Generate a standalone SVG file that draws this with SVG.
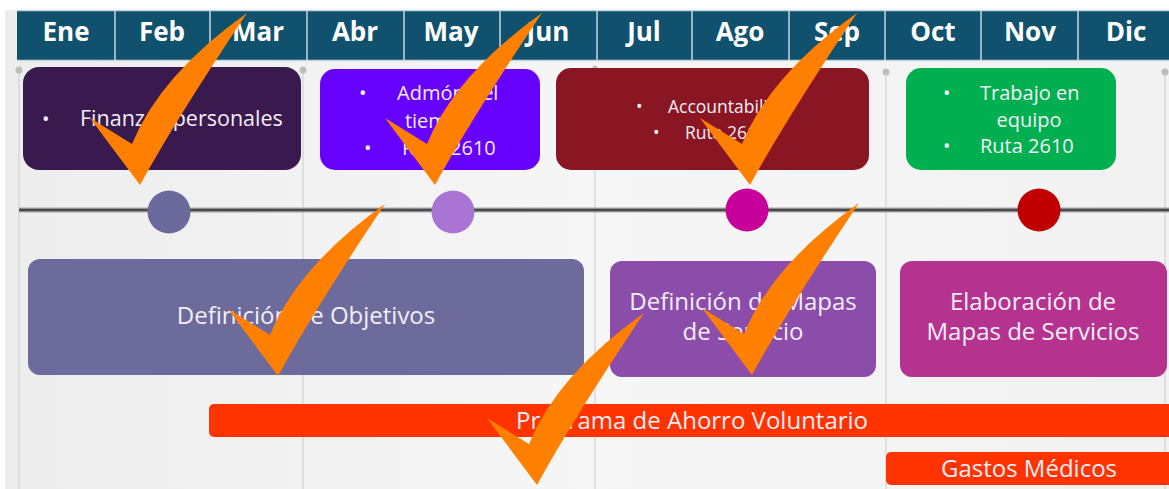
<svg xmlns="http://www.w3.org/2000/svg" xmlns:xlink="http://www.w3.org/1999/xlink" width="1169" height="489" viewBox="0 0 1169 489">
<style>
.month{font-family:"Open Sans","Liberation Sans",sans-serif;font-weight:bold;font-size:26px;fill:#ffffff;text-anchor:middle}
.t{font-family:"Open Sans","Liberation Sans",sans-serif;fill:#f2eef6}
.s19{font-size:20px}
.s21{font-size:21.5px}
.s17{font-size:17.5px}
.s22{font-size:24px}
.mid{text-anchor:middle}
.guide{stroke:#d2d2d2;stroke-width:1.2}
.gdot{fill:#bdbdbd}
.div{stroke:#c9d6de;stroke-width:1.5}
.check{fill:#FF8000}
</style>
<defs>
<linearGradient id="bg" x1="0" y1="0" x2="1" y2="0">
<stop offset="0" stop-color="#ededed"/>
<stop offset="0.5" stop-color="#f6f6f6"/>
<stop offset="1" stop-color="#f2f2f2"/>
</linearGradient>
<path id="check" d="M0,0 L-50,-67 L-8,-41 Q20,-110 107,-172 Q36,-66 0,0 Z"/>
</defs>
<rect x="0" y="0" width="1169" height="489" fill="#ffffff"/>
<rect x="5" y="10" width="1164" height="479" fill="url(#bg)"/>

<g id="header">
<rect x="17" y="10" width="1160" height="51" fill="#10526E"/>
<line class="div" x1="17" y1="10.5" x2="1169" y2="10.5"/>
<line class="div" x1="17" y1="60.5" x2="1169" y2="60.5"/>
<line class="div" x1="115" y1="10" x2="115" y2="61"/>
<line class="div" x1="210" y1="10" x2="210" y2="61"/>
<line class="div" x1="307" y1="10" x2="307" y2="61"/>
<line class="div" x1="404" y1="10" x2="404" y2="61"/>
<line class="div" x1="500" y1="10" x2="500" y2="61"/>
<line class="div" x1="597" y1="10" x2="597" y2="61"/>
<line class="div" x1="692" y1="10" x2="692" y2="61"/>
<line class="div" x1="789" y1="10" x2="789" y2="61"/>
<line class="div" x1="885" y1="10" x2="885" y2="61"/>
<line class="div" x1="981" y1="10" x2="981" y2="61"/>
<line class="div" x1="1078" y1="10" x2="1078" y2="61"/>
<text class="month" x="66" y="41">Ene</text>
<text class="month" x="162" y="41">Feb</text>
<text class="month" x="258" y="41">Mar</text>
<text class="month" x="355" y="41">Abr</text>
<text class="month" x="451" y="41">May</text>
<text class="month" x="548" y="41">Jun</text>
<text class="month" x="644" y="41">Jul</text>
<text class="month" x="740" y="41">Ago</text>
<text class="month" x="837" y="41">Sep</text>
<text class="month" x="933" y="41">Oct</text>
<text class="month" x="1030" y="41">Nov</text>
<text class="month" x="1126" y="41">Dic</text>
</g>

<g id="connectors">
<line class="guide" x1="19" y1="70" x2="19" y2="489"/>
<line class="guide" x1="303" y1="70" x2="303" y2="489"/>
<line class="guide" x1="595" y1="70" x2="595" y2="489"/>
<line class="guide" x1="886" y1="70" x2="886" y2="489"/>
<line class="guide" x1="1165" y1="70" x2="1165" y2="489"/>
<circle class="gdot" cx="19" cy="70" r="3.5"/>
<circle class="gdot" cx="303" cy="70" r="3.5"/>
<circle class="gdot" cx="595" cy="68" r="2.5"/>
<circle class="gdot" cx="886" cy="72" r="3.5"/>
<circle class="gdot" cx="1165" cy="72" r="3.5"/>
<line x1="19" y1="210" x2="1169" y2="210" stroke="#a8a8a8" stroke-width="5"/>
<line x1="19" y1="210" x2="1169" y2="210" stroke="#4a4a4a" stroke-width="2.5"/>
</g>

<g id="m1"><circle cx="169" cy="212" r="21.5" fill="#6B6A9C"/></g>
<g id="m2"><circle cx="453" cy="212" r="21.5" fill="#AA74D4"/></g>
<g id="m3"><circle cx="747" cy="210" r="21.5" fill="#C8009B"/></g>
<g id="m4"><circle cx="1039" cy="210" r="21.5" fill="#C00000"/></g>

<g id="box-finanzas">
<rect x="23" y="67" width="278" height="103" rx="16" fill="#3A1A4E"/>
<text class="t s19" x="42" y="126">•</text>
<text class="t s21" x="80" y="126">Finanzas personales</text>
</g>

<g id="box-admon">
<rect x="320" y="69" width="220" height="101" rx="15" fill="#6600FF"/>
<text class="t s19" x="359" y="100">•</text>
<text class="t s19" x="397" y="100">Admón del</text>
<text class="t s19 mid" x="438" y="128">tiempo</text>
<text class="t s19" x="364" y="155">•</text>
<text class="t s19" x="402" y="155">Ruta 2610</text>
</g>

<g id="box-accountability">
<rect x="556" y="68" width="313" height="102" rx="15" fill="#8B1623"/>
<text class="t s17" x="636" y="113">•</text>
<text class="t s17" x="668" y="113">Accountability</text>
<text class="t s17" x="653" y="139">•</text>
<text class="t s17" x="685" y="139">Ruta 2610</text>
</g>

<g id="box-trabajo">
<rect x="906" y="68" width="210" height="102" rx="15" fill="#00B050"/>
<text class="t s19" x="943" y="100">•</text>
<text class="t s19" x="980" y="100">Trabajo en</text>
<text class="t s19 mid" x="1029" y="127">equipo</text>
<text class="t s19" x="943" y="153">•</text>
<text class="t s19" x="980" y="153">Ruta 2610</text>
</g>

<g id="box-objetivos">
<rect x="28" y="259" width="556" height="116" rx="12" fill="#6D6B9C"/>
<text class="t s22 mid" x="306" y="324">Definición de Objetivos</text>
</g>

<g id="box-mapas">
<rect x="610" y="261" width="266" height="116" rx="12" fill="#8B4CAA"/>
<text class="t s22 mid" x="743" y="310">Definición de Mapas</text>
<text class="t s22 mid" x="743" y="340">de Servicio</text>
</g>

<g id="box-elaboracion">
<rect x="900" y="261" width="267" height="116" rx="12" fill="#B5338E"/>
<text class="t s22 mid" x="1033" y="310">Elaboración de</text>
<text class="t s22 mid" x="1033" y="340">Mapas de Servicios</text>
</g>

<g id="bar-ahorro">
<rect x="209" y="404" width="970" height="33" rx="5" fill="#FF3300"/>
<text class="t s22 mid" x="692" y="429">Programa de Ahorro Voluntario</text>
</g>

<g id="bar-gastos">
<rect x="886" y="452" width="293" height="33" rx="5" fill="#FF3300"/>
<text class="t s22 mid" x="1029" y="477">Gastos Médicos</text>
</g>

<g id="checks">
<use xlink:href="#check" class="check" transform="translate(140,185)"/>
<use xlink:href="#check" class="check" transform="translate(435,185)"/>
<use xlink:href="#check" class="check" transform="translate(750,185)"/>
<use xlink:href="#check" class="check" transform="translate(278,376)"/>
<use xlink:href="#check" class="check" transform="translate(752,375)"/>
<use xlink:href="#check" class="check" transform="translate(537,485)"/>
</g>
</svg>
